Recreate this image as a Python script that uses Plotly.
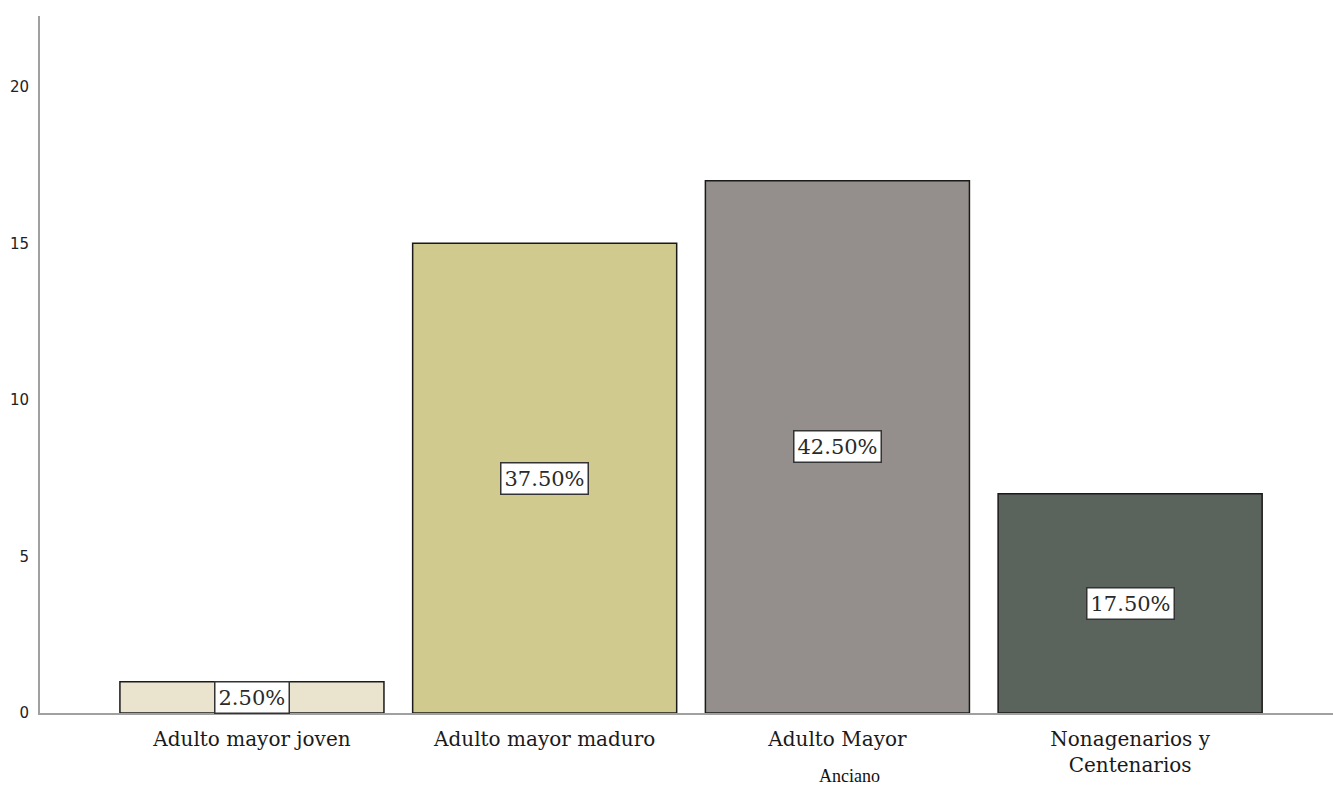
import plotly.graph_objects as go

categories = ["Adulto mayor joven", "Adulto mayor maduro", "Adulto Mayor", "Nonagenarios y<br>Centenarios"]
counts = [1, 15, 17, 7]
percent_labels = ["2.50%", "37.50%", "42.50%", "17.50%"]
bar_colors = ["#EAE4CF", "#D0CA8E", "#948F8D", "#5B635D"]
y_ticks = [0, 5, 10, 15, 20]
x_title = "Anciano"

fig = go.Figure()
fig.add_trace(go.Bar(
    x=list(range(len(categories))),
    y=counts,
    marker=dict(color=bar_colors, line=dict(color="#1a1a1a", width=1.5)),
    hoverinfo="skip",
))

for i, (c, p) in enumerate(zip(counts, percent_labels)):
    fig.add_annotation(
        x=i, y=c / 2, xref="x", yref="y", text=p, showarrow=False,
        font=dict(family="DejaVu Serif", size=21, color="#2a2a2a"),
        bgcolor="white", bordercolor="#333333", borderwidth=1.5, borderpad=3,
    )

fig.add_annotation(
    x=(850 - 40) / 1293, y=-(787 - 713) / 697, xref="paper", yref="paper", text=x_title,
    showarrow=False, font=dict(family="Liberation Serif", size=18, color="#111111"),
    xanchor="center", yanchor="bottom", borderpad=0,
)

fig.update_layout(
    width=1333, height=787,
    margin=dict(l=40, r=0, t=16, b=74),
    paper_bgcolor="white", plot_bgcolor="white",
    bargap=0.098,
    showlegend=False,
    xaxis=dict(
        tickmode="array", tickvals=list(range(len(categories))), ticktext=categories,
        range=[-0.724, 3.693], showgrid=False, zeroline=False,
        showline=True, linecolor="#a0a0a0", linewidth=2,
        ticks="", ticklabelstandoff=7,
        tickfont=dict(family="DejaVu Serif", size=20, color="#1a1a1a"),
    ),
    yaxis=dict(
        tickvals=y_ticks, range=[0, 22.26], showgrid=False, zeroline=False,
        showline=True, linecolor="#a0a0a0", linewidth=2,
        ticks="", ticklabelstandoff=6,
        tickfont=dict(family="DejaVu Sans", size=15, color="#222222"),
    ),
)

fig.write_html("out.html")
